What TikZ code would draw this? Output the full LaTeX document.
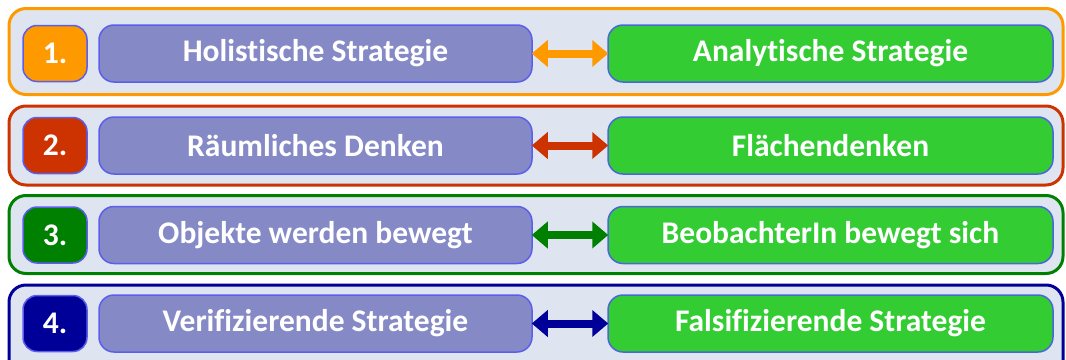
\documentclass[tikz,border=0pt]{standalone}
\usepackage{fontspec}
\setmainfont{Carlito}[Ligatures=NoCommon]
\usetikzlibrary{arrows.meta}
\definecolor{rowbg}{HTML}{DEE5F1}
\definecolor{lbox}{HTML}{8589C6}
\definecolor{lboxb}{HTML}{5B5EEB}
\definecolor{gbox}{HTML}{33CC33}
\definecolor{gboxb}{HTML}{4A66D8}
\definecolor{cone}{HTML}{FF9900}
\definecolor{ctwo}{HTML}{CC3300}
\definecolor{cthree}{HTML}{008000}
\definecolor{cfour}{HTML}{000099}
\tikzset{
  boxfont/.style={font=\bfseries\fontsize{31.5}{33}\selectfont},
  rowbox/.style={draw=#1, line width=3pt, fill=rowbg, rounded corners=17pt},
  numbox/.style={draw=lboxb, line width=1.5pt, fill=#1, rounded corners=14pt, minimum width=64pt, minimum height=56pt, text=white, boxfont},
  leftbox/.style={draw=lboxb, line width=1.5pt, fill=lbox, rounded corners=15pt, minimum width=433pt, minimum height=57pt, text=white, boxfont},
  rightbox/.style={draw=gboxb, line width=1.5pt, fill=gbox, rounded corners=15pt, minimum width=445pt, minimum height=57pt, text=white, boxfont},
  dblarrow/.style={draw=#1, line width=8pt, {Triangle[length=16pt,width=26pt]}-{Triangle[length=16pt,width=26pt]}, shorten <=-1pt, shorten >=-1pt}
}
\begin{document}
\begin{tikzpicture}[x=1pt,y=-1pt]
\useasboundingbox (0,0) rectangle (1066,359);
\clip (0,0) rectangle (1066,359);
% row frames
\node[rowbox=cone, minimum width=1054pt, minimum height=86pt, inner sep=0pt] (r1) at (536,51.5) {};
\node[rowbox=ctwo, minimum width=1054pt, minimum height=79pt, inner sep=0pt] (r2) at (536,145.5) {};
\node[rowbox=cthree, minimum width=1054pt, minimum height=78pt, inner sep=0pt] (r3) at (536,234.5) {};
\node[rowbox=cfour, minimum width=1054pt, minimum height=92pt, inner sep=0pt] (r4) at (536,331) {};
% row 1
\node[numbox=cone] (n1) at (55,53.5) {1.};
\node[leftbox] (a1) at (315.5,53.5) {Holistische Strategie};
\node[rightbox] (b1) at (830.5,53.5) {Analytische Strategie};
\draw[dblarrow=cone] (a1.east) -- (b1.west);
% row 2
\node[numbox=ctwo] (n2) at (55,145.5) {2.};
\node[leftbox] (a2) at (315.5,145.5) {Räumliches Denken};
\node[rightbox] (b2) at (830.5,145.5) {Flächendenken};
\draw[dblarrow=ctwo] (a2.east) -- (b2.west);
% row 3
\node[numbox=cthree] (n3) at (55,235) {3.};
\node[leftbox] (a3) at (315.5,235) {Objekte werden bewegt};
\node[rightbox] (b3) at (830.5,235) {BeobachterIn bewegt sich};
\draw[dblarrow=cthree] (a3.east) -- (b3.west);
% row 4
\node[numbox=cfour] (n4) at (55,323.5) {4.};
\node[leftbox] (a4) at (315.5,323.5) {Verifizierende Strategie};
\node[rightbox] (b4) at (830.5,323.5) {Falsifizierende Strategie};
\draw[dblarrow=cfour] (a4.east) -- (b4.west);
\end{tikzpicture}
\end{document}
